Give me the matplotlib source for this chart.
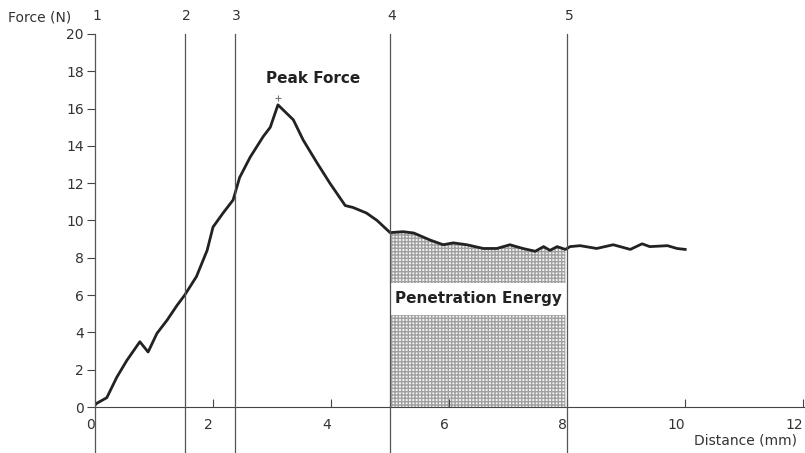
import matplotlib.pyplot as plt
import numpy as np

# force-distance curve
distance = [0.0, 0.03, 0.2, 0.37, 0.54, 0.76, 0.9, 1.05, 1.22, 1.39, 1.52, 1.72, 1.9, 2.0, 2.17,
            2.34, 2.45, 2.63, 2.85, 2.97, 3.1, 3.36, 3.53, 3.76, 3.98, 4.24, 4.37, 4.6, 4.78,
            5.0, 5.22, 5.4, 5.68, 5.9, 6.07, 6.3, 6.58, 6.81, 7.03, 7.25, 7.46, 7.6, 7.71,
            7.83, 7.97, 8.05, 8.22, 8.5, 8.78, 9.07, 9.27, 9.4, 9.7, 9.86, 10.0]
force = [0.1, 0.2, 0.5, 1.6, 2.5, 3.5, 2.95, 3.95, 4.65, 5.45, 6.0, 7.0, 8.4, 9.65, 10.4,
         11.1, 12.3, 13.4, 14.5, 15.0, 16.2, 15.4, 14.3, 13.1, 12.0, 10.8, 10.7, 10.4, 10.0,
         9.35, 9.4, 9.33, 8.95, 8.7, 8.8, 8.7, 8.5, 8.5, 8.7, 8.5, 8.35, 8.6, 8.4,
         8.6, 8.45, 8.6, 8.65, 8.5, 8.7, 8.45, 8.75, 8.6, 8.65, 8.5, 8.45]

markers = ['1', '2', '3', '4', '5']
marker_x = [0.0, 1.525, 2.37, 5.0, 8.0]
peak_x, peak_y = 3.1, 16.55
energy_start, energy_end = 5.0, 8.0

grey = '#444444'
txt = '#333333'

fig = plt.figure(figsize=(8.05, 4.53), dpi=100)
ax = fig.add_axes([0.118, 0.1015, 0.882, 0.8235])

d = np.array(distance)
f = np.array(force)
mask = (d >= energy_start) & (d <= energy_end)
ax.fill_between(d[mask], 0, f[mask], facecolor='#f4f4f4', edgecolor='#a0a0a0',
                hatch='+++++', linewidth=0)
ax.plot(distance, force, color='#222222', lw=2)
ax.plot([peak_x], [peak_y], marker='+', color='#777777', ms=4, mew=0.8)

for lab, xv in zip(markers, marker_x):
    ax.axvline(xv, ymin=-0.125, ymax=1.0, color='#555555', lw=0.9, clip_on=False, zorder=4)
    ax.text(xv + 0.03, 20.95, lab, ha='center', va='center', fontsize=10, color=txt)

ax.text(3.69, 17.6, 'Peak Force', ha='center', va='center', fontsize=11,
        fontweight='bold', color='#222222')
ax.text(6.5, 5.8, 'Penetration Energy', ha='center', va='center', fontsize=11,
        fontweight='bold', color='#222222',
        bbox=dict(facecolor='white', edgecolor='none', boxstyle='square,pad=0.55'))

ax.set_xlim(0, 12.03)
ax.set_ylim(0, 20)
ax.set_xticks([0, 2, 4, 6, 8, 10, 12])
ax.set_yticks(range(0, 21, 2))
ax.tick_params(axis='y', direction='out', length=6, colors=grey, labelcolor=txt,
               labelsize=10, pad=2)
ax.tick_params(axis='x', direction='in', length=6, colors=grey, labelcolor=txt,
               labelsize=10, pad=8)
for lbl in ax.get_xticklabels():
    lbl.set_horizontalalignment('right')

ax.spines['top'].set_visible(False)
ax.spines['right'].set_visible(False)
ax.spines['left'].set_visible(False)
ax.spines['bottom'].set_color(grey)

fig.text(0.01, 0.962, 'Force (N)', fontsize=10, color=txt, va='center')
fig.text(0.99, 0.028, 'Distance (mm)', fontsize=10, color=txt, ha='right', va='center')

fig.savefig('out.png', dpi=100)
